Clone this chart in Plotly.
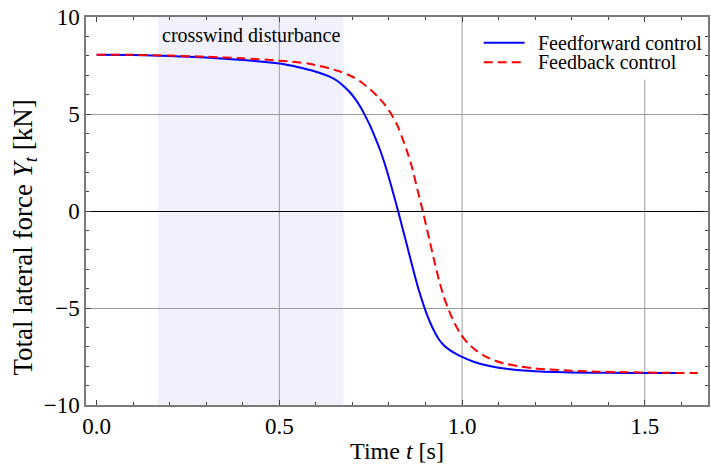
import plotly.graph_objects as go

# Feedforward control: time [s] and total lateral force [kN]
t_ff = [0.0, 0.1, 0.2, 0.3, 0.4, 0.5, 0.55, 0.6, 0.636, 0.66, 0.677, 0.693,
        0.709, 0.72, 0.732, 0.748, 0.764, 0.777, 0.795, 0.81, 0.825, 0.84,
        0.855, 0.87, 0.882, 0.898, 0.908, 0.917, 0.926, 0.936, 0.948, 0.96,
        0.98, 1.0, 1.03, 1.06, 1.1, 1.15, 1.2, 1.25, 1.3, 1.4, 1.5, 1.6]
y_ff = [8.06, 8.04, 7.99, 7.91, 7.78, 7.60, 7.42, 7.18, 6.94, 6.69, 6.42, 6.12,
        5.74, 5.42, 5.02, 4.41, 3.71, 3.08, 2.04, 1.03, 0.0, -1.09,
        -2.19, -3.28, -4.10, -5.03, -5.53, -5.93, -6.27, -6.60, -6.88, -7.08,
        -7.33, -7.52, -7.76, -7.93, -8.08, -8.2, -8.26, -8.30, -8.32, -8.34,
        -8.35, -8.35]

# Feedback control: time [s] and total lateral force [kN]
t_fb = [0.0, 0.1, 0.2, 0.3, 0.4, 0.5, 0.582, 0.664, 0.7, 0.727, 0.75, 0.773,
        0.79, 0.807, 0.822, 0.836, 0.85, 0.863, 0.878, 0.8925, 0.91, 0.925,
        0.936, 0.95, 0.963, 0.98, 0.997, 1.015, 1.036, 1.06, 1.091, 1.125,
        1.163, 1.2, 1.236, 1.3, 1.372, 1.45, 1.55, 1.645]
y_fb = [8.06, 8.05, 8.01, 7.95, 7.87, 7.75, 7.59, 7.20, 6.92, 6.60, 6.25, 5.82,
        5.45, 4.97, 4.45, 3.80, 3.05, 2.25, 1.1, 0.0, -1.42, -2.65,
        -3.50, -4.42, -5.08, -5.80, -6.36, -6.80, -7.15, -7.45, -7.72, -7.90,
        -8.03, -8.11, -8.17, -8.23, -8.28, -8.31, -8.34, -8.35]

# Interval during which the crosswind acts [s]
gust_start, gust_end = 0.167, 0.676

x_ticks = [0.0, 0.5, 1.0, 1.5]
y_ticks = [-10, -5, 0, 5, 10]
x_grid = [0.5, 1.0, 1.5]

series_names = ["Feedforward control", "Feedback control"]

FONT = "Liberation Serif, Times New Roman, serif"
FRAME = "#7a7a7a"
GRID = "#9c9c9c"

fig = go.Figure()
fig.add_trace(go.Scatter(x=t_ff, y=y_ff, mode="lines", name=series_names[0],
                         line=dict(color="#0000ff", width=2, shape="spline", smoothing=0.8)))
fig.add_trace(go.Scatter(x=t_fb, y=y_fb, mode="lines", name=series_names[1],
                         line=dict(color="#ff0000", width=2, dash="9px,5px",
                                   shape="spline", smoothing=0.8)))

shapes = [
    # crosswind interval
    dict(type="rect", xref="x", yref="paper", x0=gust_start, x1=gust_end, y0=0, y1=1,
         fillcolor="#f1f1fd", line=dict(width=0), layer="below"),
]
for gx in x_grid:
    shapes.append(dict(type="line", xref="x", yref="paper", x0=gx, x1=gx, y0=0, y1=1,
                       line=dict(color=GRID, width=1), layer="between"))

# legend box with line samples
shapes.append(dict(type="rect", xref="paper", yref="paper", x0=0.634, x1=0.998,
                   y0=0.838, y1=0.998, fillcolor="white", line=dict(width=0),
                   layer="between"))
shapes.append(dict(type="line", xref="paper", yref="paper", x0=0.6394, x1=0.7051,
                   y0=0.9338, y1=0.9338, line=dict(color="#0000ff", width=2)))
shapes.append(dict(type="line", xref="paper", yref="paper", x0=0.6394, x1=0.7051,
                   y0=0.8833, y1=0.8833, line=dict(color="#ff0000", width=2, dash="9px,5px")))

annotations = [
    dict(text="crosswind disturbance", xref="x", yref="y",
         x=(gust_start + gust_end) / 2, y=9.05, showarrow=False,
         font=dict(family=FONT, size=20, color="black"), xanchor="center", yanchor="middle"),
    dict(text=series_names[0], xref="paper", yref="paper", x=0.7228, y=0.9338,
         showarrow=False, xanchor="left", yanchor="middle",
         font=dict(family=FONT, size=20, color="black")),
    dict(text=series_names[1], xref="paper", yref="paper", x=0.7228, y=0.8833,
         showarrow=False, xanchor="left", yanchor="middle",
         font=dict(family=FONT, size=20, color="black")),
    dict(text="Total lateral force <i>Y</i><sub><i>t</i></sub> [kN]", xref="paper",
         yref="paper", x=-0.0978, y=0.432, textangle=-90, showarrow=False,
         xanchor="center", yanchor="middle",
         font=dict(family=FONT, size=27, color="black")),
]

fig.update_layout(
    width=711, height=472,
    margin=dict(l=86, r=1, t=17, b=67),
    paper_bgcolor="white", plot_bgcolor="white",
    showlegend=False,
    shapes=shapes, annotations=annotations,
    font=dict(family=FONT, size=22, color="black"),
)

fig.update_xaxes(
    range=[-0.029, 1.673], tickvals=x_ticks, tickformat=".1f",
    showgrid=False, zeroline=False,
    showline=True, linecolor=FRAME, linewidth=1.5, mirror="allticks",
    ticks="inside", ticklen=5, tickcolor="#444", tickwidth=1,
    minor=dict(dtick=0.1, tick0=0, ticks="inside", ticklen=3, tickcolor="#444", showgrid=False),
    title=dict(text="Time <i>t</i> [s]", font=dict(family=FONT, size=24), standoff=4),
    tickfont=dict(family=FONT, size=23),
)
fig.update_yaxes(
    range=[-10, 10], tickvals=y_ticks,
    showgrid=True, gridcolor=GRID, gridwidth=1,
    zeroline=True, zerolinecolor="black", zerolinewidth=1.3,
    showline=True, linecolor=FRAME, linewidth=1.5, mirror="allticks",
    ticks="inside", ticklen=5, tickcolor="#444", tickwidth=1,
    minor=dict(dtick=1, tick0=0, ticks="inside", ticklen=3, tickcolor="#444", showgrid=False),
    tickfont=dict(family=FONT, size=23),
)

fig.write_html("out.html")
